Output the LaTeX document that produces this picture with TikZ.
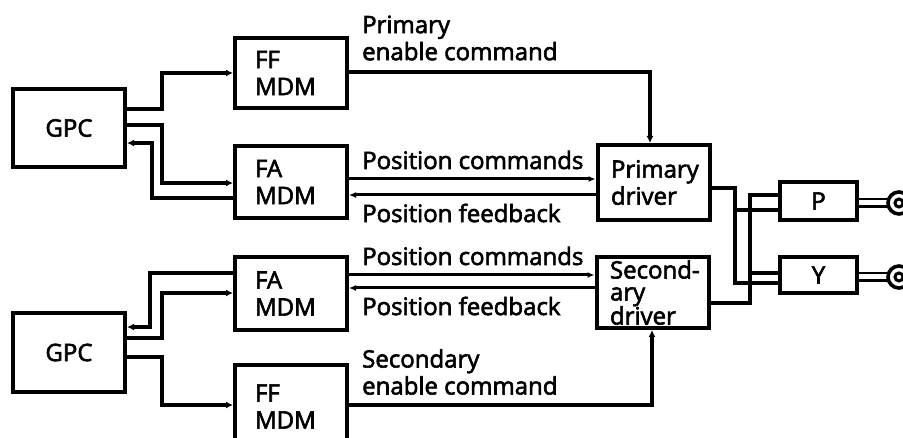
\documentclass[tikz,border=0pt]{standalone}
\usepackage{fontspec}
\setmainfont{Open Sans}[UprightFeatures={FakeBold=2.5}]
\usetikzlibrary{arrows.meta,positioning,calc}
\tikzset{
  unitbox/.style={
    rectangle, draw, line width=4pt, inner sep=0pt,
    minimum width=#1, font=\fontsize{24}{27}\selectfont
  },
  unitbox/.default=112pt,
  mdmbox/.style={
    unitbox, text width=72pt, inner xsep=20pt, align=left
  },
  drvbox/.style={
    unitbox, text width=85pt, inner xsep=11pt, align=left
  },
  sigline/.style={
    -{Latex[length=7pt,width=7pt]}, line width=3.6pt
  },
  posline/.style={
    -{Latex[length=7pt,width=6pt]}, line width=3pt
  },
  linkline/.style={
    line width=4.4pt
  },
  labelnode/.style={
    font=\fontsize{24}{27}\selectfont, align=left, anchor=west, inner sep=0pt
  },
}
\begin{document}
\begin{tikzpicture}[x=1pt,y=-1pt]
  \useasboundingbox (0,0) rectangle (903,438);

  % Computers
  \node[unitbox, minimum height=78pt] (gpcA) at (69,128) {GPC};
  \node[unitbox, minimum height=79pt] (gpcB) at (69,352.5) {GPC};

  % MDMs
  \node[mdmbox, minimum height=70pt] (ffA) at (291,73) {FF\\MDM};
  \node[mdmbox, minimum height=72pt] (faA) at (291,182) {FA\\MDM};
  \node[mdmbox, minimum height=73pt] (faB) at (291,293.5) {FA\\MDM};
  \node[mdmbox, minimum height=90pt, text depth=34pt] (ffB) at (291,410) {FF\\MDM};

  % Drivers and actuators
  \node[drvbox, minimum height=75pt] (pridrv) at (653.5,182.5) {Primary\\driver};
  \node[drvbox, minimum height=71pt] (secdrv) at (652.5,292.5) {\mbox{Second-}\\[-5pt]ary\\[-3pt]driver};
  \node[unitbox=77pt, minimum height=38pt] (actP) at (818.5,201) {P};
  \node[unitbox=77pt, minimum height=36pt] (actY) at (818.5,275) {Y};

  % GPC <-> MDM
  \draw[sigline] (gpcA.east |- 0,109) -| (162,73) -- (ffA.west);
  \draw[sigline] (gpcA.east |- 0,125) -| (162,183) -- (faA.west |- 0,183);
  \draw[sigline] (faA.west |- 0,198) -| (152,143) -- (gpcA.east |- 0,143);
  \draw[sigline] (faB.west |- 0,273) -| (150,327) -- (gpcB.east |- 0,327);
  \draw[sigline] (gpcB.east |- 0,338) -| (162,293) -- (faB.west |- 0,293);
  \draw[sigline] (gpcB.east |- 0,357) -| (162,405) -- (ffB.west |- 0,405);

  % Enable commands
  \draw[sigline] (ffA.east |- 0,72) -| (pridrv.north -| 650,0);
  \draw[sigline] (ffB.east |- 0,405) -| (secdrv.south -| 652,0);
  \node[labelnode] (lblpe) at (362,38) {Primary\\enable command};
  \node[labelnode] (lblse) at (362,372) {Secondary\\enable command};

  % Position commands and feedback
  \draw[posline] (faA.east |- 0,179) -- (pridrv.west |- 0,179);
  \draw[posline] (pridrv.west |- 0,195) -- (faA.east |- 0,195);
  \draw[posline] (faB.east |- 0,275) -- (secdrv.west |- 0,275);
  \draw[posline] (secdrv.west |- 0,288) -- (faB.east |- 0,288);
  \node[labelnode] (lblpc1) at (362,160) {Position commands};
  \node[labelnode] (lblpf1) at (362,213) {Position feedback};
  \node[labelnode] (lblpc2) at (362,256) {Position commands};
  \node[labelnode] (lblpf2) at (362,306) {Position feedback};

  % Driver outputs
  \coordinate (tapP) at (735,210);
  \coordinate (tapY) at (750,273);
  \draw[linkline] (pridrv.east |- 0,188) -| (735,283) -- (actY.west |- 0,283);
  \draw[linkline] (tapP) -- (actP.west |- tapP);
  \draw[linkline] (secdrv.east |- 0,303) -| (750,195) -- (actP.west |- 0,195);
  \draw[linkline] (tapY) -- (actY.west |- tapY);

  % Nozzle links
  \foreach \act in {actP,actY}{
    \coordinate (eye) at ($(\act.east)+(40,2)$);
    \draw[line width=2.6pt, double, double distance=5pt] (\act.east |- eye) -- ($(eye)+(-11,0)$);
    \draw[line width=3.6pt] (eye) circle (11);
    \draw[line width=3pt] (eye) circle (4);
  }
\end{tikzpicture}
\end{document}
